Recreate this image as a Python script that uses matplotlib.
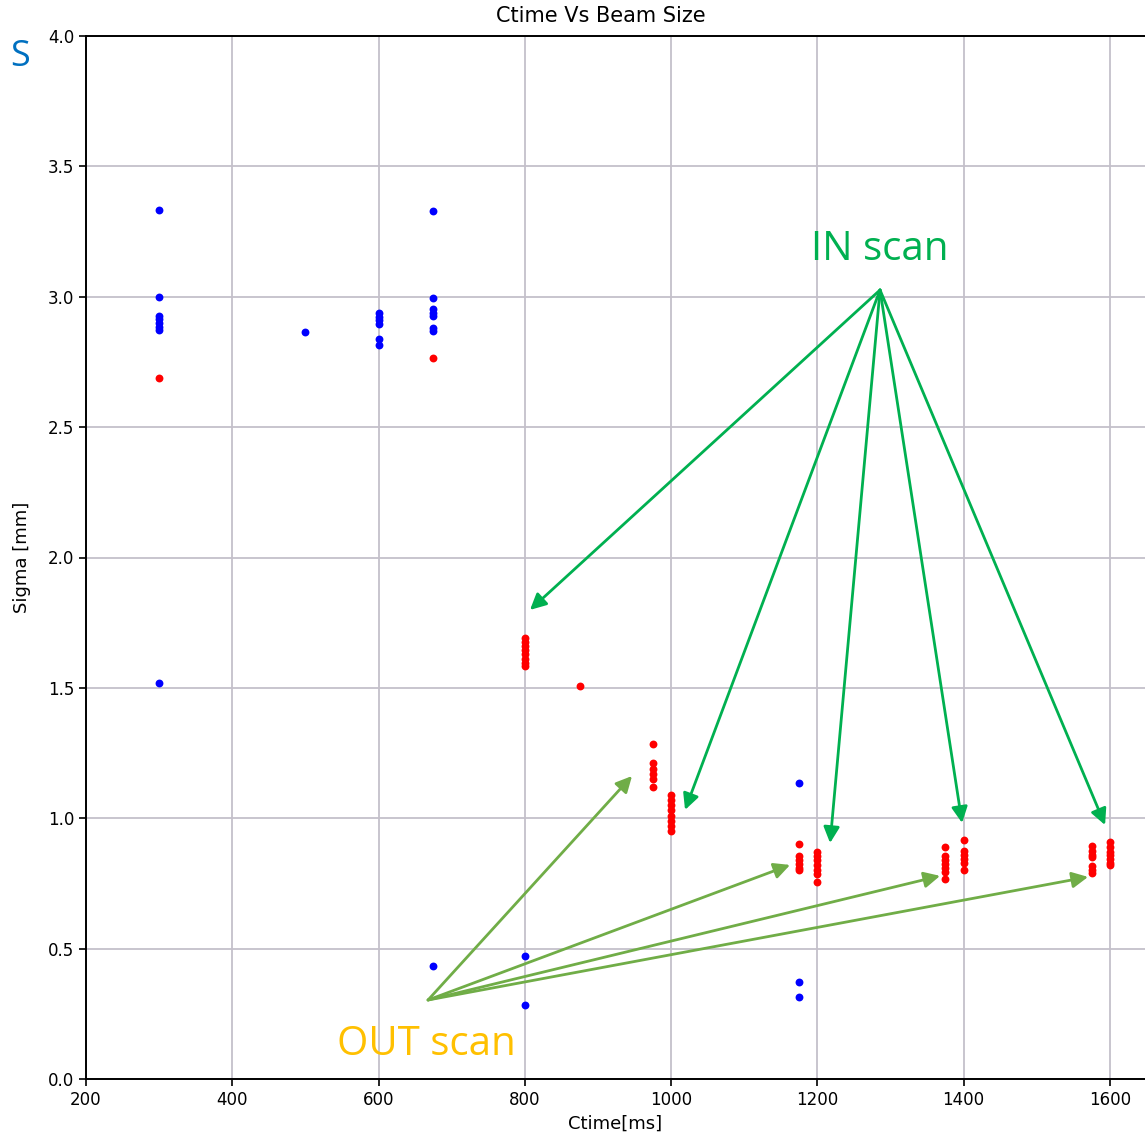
#!/usr/bin/env python3
"""Ctime vs beam size scatter with IN/OUT scan annotations."""

import matplotlib
matplotlib.use("Agg")
import matplotlib.pyplot as plt

# blue points (sigma from fit)
blue_ctime = [300, 300, 300, 300, 300, 300, 300, 300,
              500,
              600, 600, 600, 600, 600, 600,
              675, 675, 675, 675, 675, 675, 675, 675,
              800, 800,
              1175, 1175, 1175]
blue_sigma = [3.333, 3.0, 2.927, 2.915, 2.90, 2.885, 2.872, 1.52,
              2.866,
              2.937, 2.924, 2.911, 2.894, 2.839, 2.816,
              3.328, 2.994, 2.952, 2.939, 2.926, 2.88, 2.87, 0.435,
              0.472, 0.283,
              1.135, 0.372, 0.316]

# red points
red_ctime = [300, 675,
             800, 800, 800, 800, 800, 800, 800, 800,
             875,
             975, 975, 975, 975, 975, 975,
             1000, 1000, 1000, 1000, 1000, 1000, 1000, 1000,
             1175, 1175, 1175, 1175, 1175, 1175,
             1200, 1200, 1200, 1200, 1200, 1200, 1200,
             1375, 1375, 1375, 1375, 1375, 1375, 1375,
             1400, 1400, 1400, 1400, 1400, 1400,
             1575, 1575, 1575, 1575, 1575, 1575, 1575,
             1600, 1600, 1600, 1600, 1600, 1600, 1600]
red_sigma = [2.69, 2.765,
             1.69, 1.675, 1.66, 1.645, 1.63, 1.61, 1.595, 1.583,
             1.507,
             1.285, 1.21, 1.19, 1.17, 1.15, 1.12,
             1.09, 1.07, 1.05, 1.03, 1.01, 0.99, 0.97, 0.95,
             0.90, 0.855, 0.84, 0.825, 0.81, 0.80,
             0.87, 0.855, 0.84, 0.82, 0.80, 0.785, 0.755,
             0.89, 0.855, 0.84, 0.825, 0.81, 0.795, 0.766,
             0.917, 0.875, 0.86, 0.845, 0.83, 0.80,
             0.895, 0.875, 0.86, 0.85, 0.815, 0.80, 0.79,
             0.91, 0.89, 0.87, 0.86, 0.845, 0.83, 0.82]

x_ticks = [200, 400, 600, 800, 1000, 1200, 1400, 1600]
y_ticks = [0.0, 0.5, 1.0, 1.5, 2.0, 2.5, 3.0, 3.5, 4.0]

# annotation arrows: origin and targets (data coords)
in_origin = (1285.7, 3.026)
in_targets = [(807.1, 1.799), (1019.1, 1.032), (1217.4, 0.905),
              (1397.9, 0.982), (1593.4, 0.974)]
out_origin = (667.7, 0.303)
out_targets = [(946.6, 1.162), (1162.7, 0.821), (1367.8, 0.779),
               (1570.2, 0.775)]

fig = plt.figure(figsize=(11.45, 11.43), dpi=100)
ax = fig.add_axes([86 / 1145, 64 / 1143, 1059 / 1145, 1043 / 1143])

ax.scatter(blue_ctime, blue_sigma, s=32, color='blue', linewidths=0, zorder=3)
ax.scatter(red_ctime, red_sigma, s=32, color='red', linewidths=0, zorder=3)

ax.set_xlim(200, 1648)
ax.set_ylim(0, 4.0)
ax.set_xticks(x_ticks)
ax.set_yticks(y_ticks)
ax.set_yticklabels([f"{v:.1f}" for v in y_ticks])
ax.tick_params(labelsize=12, length=5, width=1.2)
ax.grid(True, color='#c4c0ca', linewidth=1.3)
ax.set_axisbelow(True)
for side in ['left', 'bottom', 'top']:
    ax.spines[side].set_linewidth(1.4)
ax.spines['right'].set_visible(False)

ax.set_xlabel('Ctime[ms]', fontsize=13, labelpad=4)
ax.set_ylabel('Sigma [mm]', fontsize=13, labelpad=12)
ax.set_title('Ctime Vs Beam Size', fontsize=15, x=0.486, pad=10)

# IN scan label and arrows
ax.text(1285.7, 3.18, 'IN scan', color='#00b050', fontsize=29,
        family='Open Sans', ha='center', va='center')
for tx, ty in in_targets:
    ax.annotate('', xy=(tx, ty), xytext=in_origin,
                arrowprops=dict(arrowstyle='-|>', color='#00b050', lw=2,
                                mutation_scale=24, shrinkA=0, shrinkB=0))

# OUT scan label and arrows
ax.text(665, 0.13, 'OUT scan', color='#ffc000', fontsize=29,
        family='Open Sans', ha='center', va='center')
for tx, ty in out_targets:
    ax.annotate('', xy=(tx, ty), xytext=out_origin,
                arrowprops=dict(arrowstyle='-|>', color='#70ad47', lw=2,
                                mutation_scale=24, shrinkA=0, shrinkB=0))

fig.text(10 / 1145, 1 - 57 / 1143, 'S', color='#0070c0', fontsize=26,
         family='Open Sans', ha='left', va='center')

fig.savefig('out.png', dpi=100)
